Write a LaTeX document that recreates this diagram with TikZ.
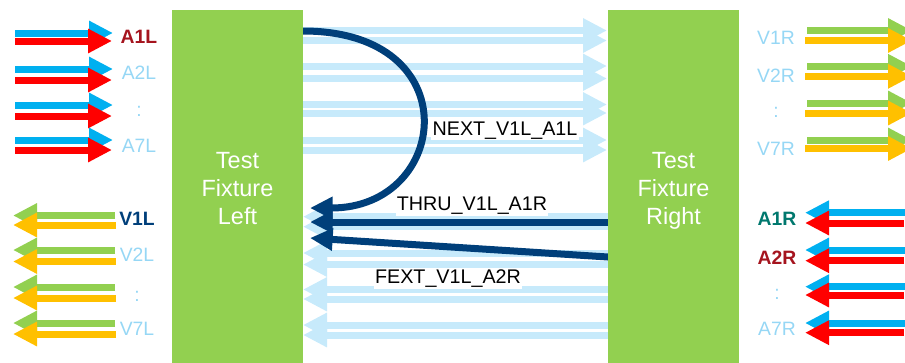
\documentclass[tikz,border=0pt]{standalone}
\usepackage{fontspec}
\setmainfont{Liberation Sans}
\usetikzlibrary{arrows.meta}
\definecolor{fixgreen}{HTML}{92D050}
\definecolor{cyanc}{HTML}{00B0F0}
\definecolor{redc}{HTML}{FF0000}
\definecolor{orangec}{HTML}{FFC000}
\definecolor{lightarr}{HTML}{C7EAFB}
\definecolor{lightlbl}{HTML}{96D7F5}
\definecolor{navyc}{HTML}{003F7A}
\definecolor{darkredc}{HTML}{A5141E}
\definecolor{tealc}{HTML}{00786E}
\begin{document}
\begin{tikzpicture}[x=0.75pt,y=-0.75pt,
  fat/.style={line width=5.25pt, -{Triangle[length=18pt,width=17.25pt]}},
  navyarrow/.style={line width=5.25pt, color=navyc, -{Triangle[length=17pt,width=16pt]}},
  sidelbl/.style={font=\fontsize{14.5}{17}\selectfont, inner sep=0pt, text=lightlbl},
  boldlbl/.style={sidelbl, font=\fontsize{14.5}{17}\selectfont\bfseries},
  midlbl/.style={font=\fontsize{14.8}{17}\selectfont, inner sep=1pt, fill=white, anchor=base},
  fixture/.style={fill=fixgreen, minimum width=98.25pt, minimum height=271.5pt, inner sep=0pt,
    text=white, align=center, font=\fontsize{17.6}{21}\selectfont}
]
\clip (0,0) rectangle (905,362);

% left top: blue / red to the right
\foreach \yb/\yr [count=\i] in {33/41, 69/80, 105/116, 140/150} {
  \coordinate (LTbs\i) at (15,\yb); \coordinate (LTbe\i) at (113,\yb);
  \coordinate (LTrs\i) at (15,\yr); \coordinate (LTre\i) at (112,\yr);
  \draw[fat, color=cyanc] (LTbs\i) -- (LTbe\i);
  \draw[fat, color=redc] (LTrs\i) -- (LTre\i);
}
% left bottom: green / orange to the left
\foreach \yg/\yo [count=\i] in {215.5/225, 250/261.5, 287/298, 323/334} {
  \coordinate (LBgs\i) at (115,\yg); \coordinate (LBge\i) at (13,\yg);
  \coordinate (LBos\i) at (116,\yo); \coordinate (LBoe\i) at (13,\yo);
  \draw[fat, color=fixgreen] (LBgs\i) -- (LBge\i);
  \draw[fat, color=orangec] (LBos\i) -- (LBoe\i);
}
% right top: green / orange to the right
\foreach \yg/\yo [count=\i] in {30.5/40.5, 66.3/76.3, 103/113, 140/148.5} {
  \coordinate (RTgs\i) at (807,\yg); \coordinate (RTge\i) at (912,\yg);
  \coordinate (RTos\i) at (805,\yo); \coordinate (RToe\i) at (912,\yo);
  \draw[fat, color=fixgreen] (RTgs\i) -- (RTge\i);
  \draw[fat, color=orangec] (RTos\i) -- (RToe\i);
}
% right bottom: blue / red to the left
\foreach \yb/\yr [count=\i] in {212.7/223, 250/260.7, 286.7/295, 323/332.7} {
  \coordinate (RBbs\i) at (906,\yb); \coordinate (RBbe\i) at (805,\yb);
  \coordinate (RBrs\i) at (904,\yr); \coordinate (RBre\i) at (805,\yr);
  \draw[fat, color=cyanc] (RBbs\i) -- (RBbe\i);
  \draw[fat, color=redc] (RBrs\i) -- (RBre\i);
}
% middle light arrows
\foreach \y [count=\i] in {30.5,40.5,66,78.5,104.5,113,140,150} {
  \coordinate (MTs\i) at (302,\y); \coordinate (MTe\i) at (607,\y);
  \draw[fat, color=lightarr] (MTs\i) -- (MTe\i);
}
\foreach \y [count=\i] in {216.7,226.7,253,264.5,289.5,299,325,335} {
  \coordinate (MBs\i) at (608,\y); \coordinate (MBe\i) at (303,\y);
  \draw[fat, color=lightarr] (MBs\i) -- (MBe\i);
}

% middle labels
\node[midlbl] (lnext) at (505,135) {NEXT\_V1L\_A1L};
\node[midlbl] (lthru) at (472,210.7) {THRU\_V1L\_A1R};
\node[midlbl] (lfext) at (448,283.3) {FEXT\_V1L\_A2R};

% navy arrows
\coordinate (nextS) at (303,31); \coordinate (nextE) at (310,208);
\coordinate (thruS) at (608,222); \coordinate (thruE) at (310,222);
\coordinate (fextS) at (608,257); \coordinate (fextE) at (310,238);
\draw[navyarrow] (nextS) .. controls (470,31) and (450,208) .. (nextE);
\draw[navyarrow] (thruS) -- (thruE);
\draw[navyarrow] (fextS) -- (fextE);

% fixtures
\node[fixture] (FL) at (237.5,191) {Test\\Fixture\\Left\vphantom{g}};
\node[fixture] (FR) at (673.5,191) {Test\\Fixture\\Right};

% side labels
\node[boldlbl, text=darkredc] (A1L) at (139,37) {A1L};
\node[sidelbl] (A2L) at (139,73) {A2L};
\node[sidelbl] (dLT) at (139,111) {:};
\node[sidelbl] (A7L) at (139,146) {A7L};

\node[boldlbl, text=navyc] (V1L) at (137,219) {V1L};
\node[sidelbl] (V2L) at (137,255) {V2L};
\node[sidelbl] (dLB) at (137,296) {:};
\node[sidelbl] (V7L) at (137,329) {V7L};

\node[sidelbl] (V1R) at (776,38) {V1R};
\node[sidelbl] (V2R) at (776,75.5) {V2R};
\node[sidelbl] (dRT) at (776,112) {:};
\node[sidelbl] (V7R) at (776,148.5) {V7R};

\node[boldlbl, text=tealc] (A1R) at (777,219) {A1R};
\node[boldlbl, text=darkredc] (A2R) at (777,258) {A2R};
\node[sidelbl] (dRB) at (777,294) {:};
\node[sidelbl] (A7R) at (777,329) {A7R};
\end{tikzpicture}
\end{document}
